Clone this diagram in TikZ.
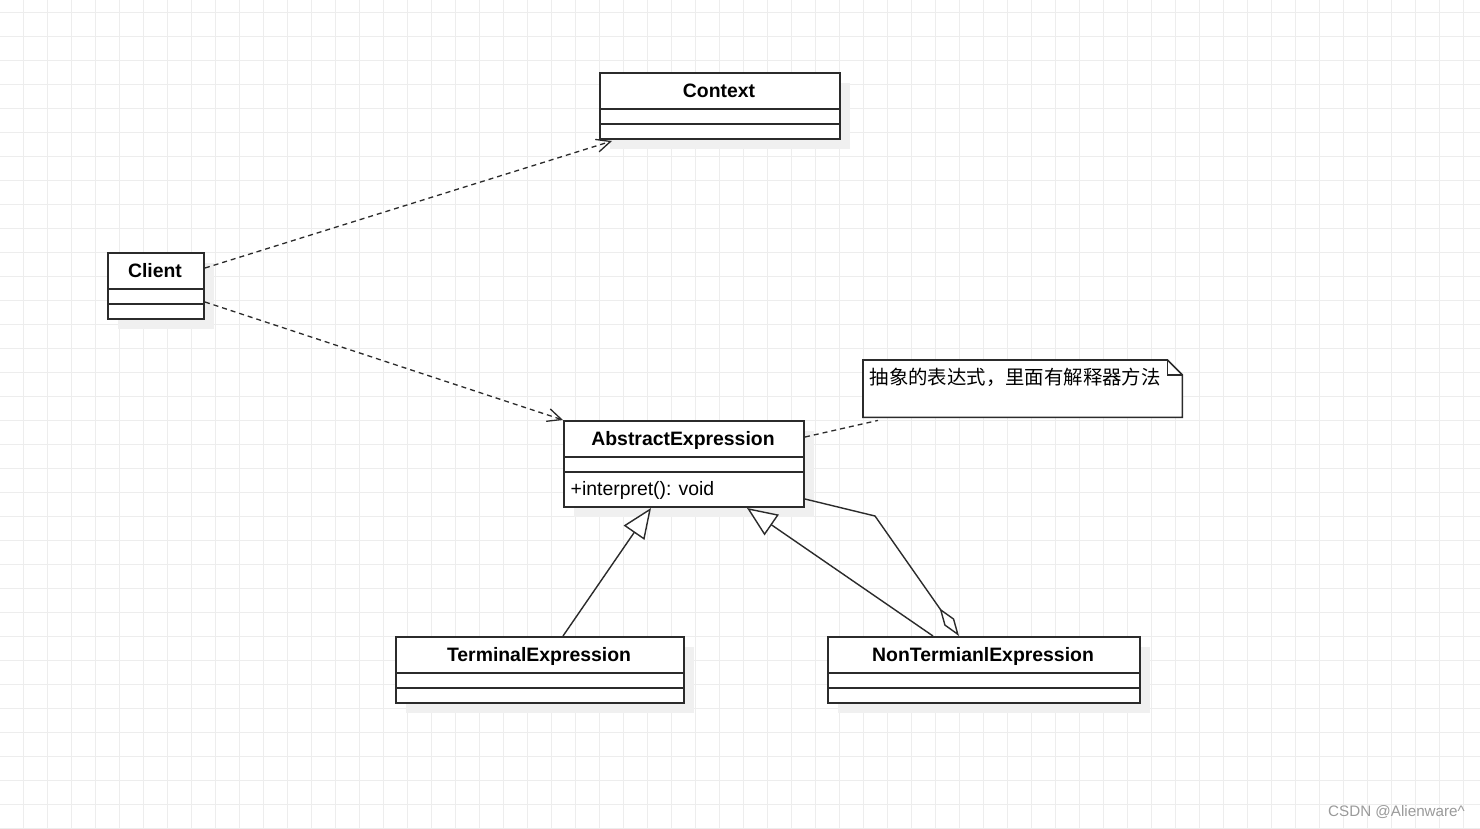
\documentclass[tikz,border=0pt]{standalone}
\usepackage{fontspec}
\setmainfont{Liberation Sans}
\newfontfamily\cjk{Noto Sans CJK SC}
\usetikzlibrary{arrows.meta,calc,shadows}
\definecolor{gridc}{HTML}{EDEDED}
\definecolor{linec}{HTML}{2B2B2B}
\definecolor{shadowc}{HTML}{F0F0F0}
\definecolor{wmc}{HTML}{9A9A9A}
\tikzset{
  gridline/.style={draw=gridc, line width=1pt},
  classbox/.style={draw=linec, line width=2pt, fill=white, anchor=north west, inner sep=0pt,
    drop shadow={shadow xshift=10pt, shadow yshift=-10pt, fill=shadowc, opacity=1}},
  sepline/.style={draw=linec, line width=1.6pt},
  title/.style={font=\fontsize{19.4}{23}\selectfont\bfseries, text=black, inner sep=0pt, text depth=0pt},
  member/.style={font=\fontsize{19.4}{23}\selectfont, text=black, inner sep=0pt, anchor=west, text depth=0pt},
  dep/.style={draw=linec, line width=1.3pt, dash pattern=on 5pt off 4pt,
    -{Straight Barb[length=14pt,width=13pt,line width=1.3pt]}},
  inh/.style={draw=linec, line width=1.4pt, line join=miter,
    -{Triangle[length=30pt,width=25pt,fill=white,line width=1.4pt]}},
  agg/.style={draw=linec, line width=1.4pt, line join=miter,
    -{Diamond[length=34pt,width=12pt,fill=white,line width=1.4pt]}},
  notelink/.style={draw=linec, line width=1.3pt, dash pattern=on 5pt off 4pt},
  notebox/.style={draw=none, anchor=north west, inner sep=0pt},
}
\begin{document}
\begin{tikzpicture}[x=1pt,y=-1pt]
\useasboundingbox (0,0) rectangle (1480,828);
\fill[white] (0,0) rectangle (1480,828);
% grid
\foreach \i in {0,...,60} \draw[gridline] (23.5+24*\i,0) -- (23.5+24*\i,828);
\foreach \j in {0,...,34} \draw[gridline] (0,12+24*\j) -- (1480,12+24*\j);

% Context
\node[classbox, minimum width=240pt, minimum height=66pt] (ctx) at (599,72) {};
\draw[sepline] ($(ctx.north west)+(0,37)$) -- ($(ctx.north east)+(0,37)$);
\draw[sepline] ($(ctx.north west)+(0,52)$) -- ($(ctx.north east)+(0,52)$);
\node[title] (ctxT) at (719,90.5) {Context};

% Client
\node[classbox, minimum width=96pt, minimum height=66pt] (client) at (107,252) {};
\draw[sepline] ($(client.north west)+(0,37)$) -- ($(client.north east)+(0,37)$);
\draw[sepline] ($(client.north west)+(0,52)$) -- ($(client.north east)+(0,52)$);
\node[title] (clientT) at (155,270.5) {Client};

% AbstractExpression
\node[classbox, minimum width=240pt, minimum height=86pt] (abs) at (563,420) {};
\draw[sepline] ($(abs.north west)+(0,37)$) -- ($(abs.north east)+(0,37)$);
\draw[sepline] ($(abs.north west)+(0,52)$) -- ($(abs.north east)+(0,52)$);
\node[title] (absT) at (683,438.5) {AbstractExpression};
\node[member] (absM) at (570.5,488) {+interpret(): void};

% TerminalExpression
\node[classbox, minimum width=288pt, minimum height=66pt] (term) at (395,636) {};
\draw[sepline] ($(term.north west)+(0,37)$) -- ($(term.north east)+(0,37)$);
\draw[sepline] ($(term.north west)+(0,52)$) -- ($(term.north east)+(0,52)$);
\node[title] (termT) at (539,654.5) {TerminalExpression};

% NonTermianlExpression
\node[classbox, minimum width=312pt, minimum height=66pt] (nonterm) at (827,636) {};
\draw[sepline] ($(nonterm.north west)+(0,37)$) -- ($(nonterm.north east)+(0,37)$);
\draw[sepline] ($(nonterm.north west)+(0,52)$) -- ($(nonterm.north east)+(0,52)$);
\node[title] (nontermT) at (983,654.5) {NonTermianlExpression};

% Note
\node[notebox, minimum width=319pt, minimum height=57pt] (note) at (863,360) {};
\draw[draw=linec, line width=1.6pt, fill=white, line join=miter]
  (note.north west) -- ($(note.north east)+(-15,0)$) -- ($(note.north east)+(0,15)$)
  -- (note.south east) -- (note.south west) -- cycle;
\draw[draw=linec, line width=1.2pt]
  ($(note.north east)+(-15,0)$) -- ($(note.north east)+(-15,15)$) -- ($(note.north east)+(0,15)$);
\node[member, font=\cjk\fontsize{19.4}{23}\selectfont] (noteT) at (869.5,376) {抽象的表达式，里面有解释器方法};

% connectors
\draw[dep] ($(client.north east)+(0,16)$) -- ($(ctx.south west)+(13,1)$);
\draw[dep] ($(client.north east)+(0,50)$) -- (abs.north west);
\draw[notelink] ($(abs.north east)+(0,17)$) -- ($(note.south west)+(15,3)$);
\draw[inh] ($(term.north west)+(168,0)$) -- ($(abs.south west)+(88,0)$);
\draw[inh] ($(nonterm.north west)+(106,0)$) -- ($(abs.south west)+(184,0)$);
\coordinate (bend) at (875,516);
\draw[agg] ($(abs.south east)+(0,-9)$) -- (bend) -- ($(nonterm.north west)+(132,0)$);

% watermark
\node[anchor=west, inner sep=0pt, text=wmc, font=\fontsize{15.2}{18}\selectfont] (wm) at (1328,812.5) {CSDN @Alienware\^{}};
\end{tikzpicture}
\end{document}
